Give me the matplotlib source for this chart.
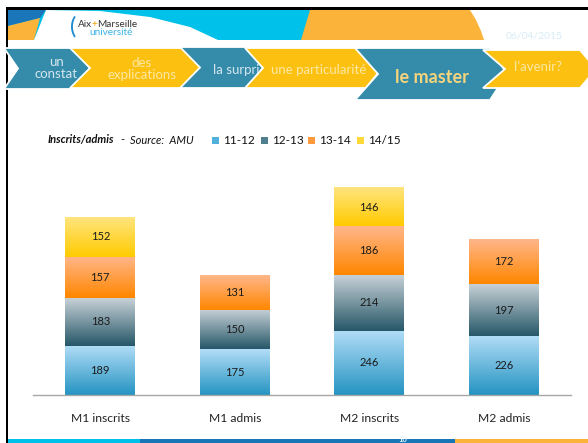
import numpy as np
import matplotlib
matplotlib.use("Agg")
import matplotlib.pyplot as plt
from matplotlib.patches import Polygon, Rectangle
from matplotlib.colors import LinearSegmentedColormap

plt.rcParams['font.family'] = ['Lato', 'DejaVu Sans']

# data
categories = ['M1 inscrits', 'M1 admis', 'M2 inscrits', 'M2 admis']
series = ['11-12', '12-13', '13-14', '14/15']
v_1112 = [189, 175, 246, 226]
v_1213 = [183, 150, 214, 197]
v_1314 = [157, 131, 186, 172]
v_1415 = [152, 0, 146, 0]
values = [v_1112, v_1213, v_1314, v_1415]

nav_labels = ['un\nconstat', 'des\nexplications', 'la surpri', 'une particularité', 'le master', 'l\u2019avenir?']

# gradient colours per series (top, bottom)
grads = [('#b2ddf7', '#2594c2'),
         ('#c6d0d6', '#275869'),
         ('#ffb68a', '#ff8700'),
         ('#ffe47e', '#ffcb00')]
mid_cols = ['#52b0dc', '#4f7f8f', '#ff9a3c', '#ffd83a']

W, H = 588, 443
fig = plt.figure(figsize=(W / 100, H / 100), dpi=100)
fig.patch.set_facecolor('white')

# ---- slide background drawn in pixel coordinates ----
bg = fig.add_axes([0, 0, 1, 1])
bg.set_xlim(0, W)
bg.set_ylim(H, 0)
bg.axis('off')

teal = '#348caa'
yellow = '#fcc010'
cyan = '#00c1ea'
orange = '#fbb33a'
dblue = '#1a76b9'

bg.add_patch(Rectangle((8, 10), 305, 30, color=cyan, lw=0))
bg.add_patch(Polygon([(8, 10), (46, 10), (40, 18), (8, 26)], color=dblue, lw=0))
bg.add_patch(Polygon([(8, 26), (40, 18), (34, 40), (8, 40)], color=orange, lw=0))
bg.add_patch(Polygon([(46, 10), (100, 11), (150, 17), (190, 27), (218, 40), (34, 40)],
                     color='white', lw=0))
bg.add_patch(Polygon([(310, 10), (470, 10), (476, 20), (481, 31), (484, 40), (301, 40)],
                     color=orange, lw=0))
bg.text(534, 36, '06/04/2015', fontsize=7.5, color='#d6ecf6', ha='center', va='center')

# logo
bg.text(73, 27, '(', fontsize=17, color='#1a8ad0', ha='center', va='center')
bg.text(78, 24, 'Aix', fontsize=7.2, color='#333333', ha='left', va='center')
bg.text(92, 24, '+', fontsize=7.2, color='#f5a000', ha='left', va='center')
bg.text(97, 24, 'Marseille', fontsize=7.2, color='#333333', ha='left', va='center')
bg.text(89, 32, 'université', fontsize=7.2, color='#3ab4e6', ha='left', va='center')

# black frame
bg.add_patch(Rectangle((6, 7), W - 6, 3, color='black', lw=0))
bg.add_patch(Rectangle((6, 7), 2, H - 7, color='black', lw=0))


def chevron(x0, x1, tip, top, bot, notch, col, z):
    mid = (top + bot) / 2
    pts = [(x0, top), (x1, top), (tip, mid), (x1, bot), (x0, bot), (x0 + notch, mid)]
    bg.add_patch(Polygon(pts, closed=True, facecolor=col, edgecolor='white', lw=1.3, zorder=z))


# nav chevrons: x0, body end, tip, top, bottom, notch, colour, text x, text y, text colour, size, weight
navs = [
    (4, 75, 90, 48, 89, 14, teal, 56, 68, '#d4e5ee', 9.5, 'normal'),
    (70, 186, 201, 48, 88, 20, yellow, 142, 69, '#fde8a4', 9.5, 'normal'),
    (180, 248, 263, 47, 88, 20, teal, 236, 70, '#d4e5ee', 9.5, 'normal'),
    (245, 366, 382, 48, 88, 18, yellow, 319, 70, '#fde8a4', 9.5, 'normal'),
    (355, 490, 507, 48, 100, 23, teal, 432, 77, '#f6d47c', 13, 'bold'),
    (483, 580, 596, 50, 88, 22, yellow, 538, 67, '#fde8a4', 9.5, 'normal'),
]
for i, (x0, x1, tip, top, bot, notch, col, tx, ty, tc, fs, fw) in enumerate(navs):
    z = 2 + i * 2
    chevron(x0, x1, tip, top, bot, notch, col, z)
    bg.text(tx, ty, nav_labels[i], fontsize=fs, color=tc, ha='center', va='center',
            fontweight=fw, linespacing=1.05, zorder=z + 1)

# bottom strip
bg.add_patch(Rectangle((8, 439), 132, 4, color=cyan, lw=0))
bg.add_patch(Rectangle((140, 439), 315, 4, color='#1777b6', lw=0))
bg.add_patch(Rectangle((455, 439), 133, 4, color=orange, lw=0))
bg.text(403, 440, '10', fontsize=5.5, color='#e8f4fa', ha='center', va='center', fontweight='bold')

# legend line
bg.text(48, 140, 'Inscrits/admis', fontsize=8, style='italic', fontweight='bold',
        color='#111111', ha='left', va='center')
bg.text(120, 140, '-', fontsize=8, color='#111111', ha='left', va='center')
bg.text(130, 140, 'Source:  AMU', fontsize=8, style='italic', color='#111111',
        ha='left', va='center')
leg_x = [212, 261, 308, 357]
for i, s in enumerate(series):
    bg.add_patch(Rectangle((leg_x[i], 137), 6.5, 6.5, color=mid_cols[i], lw=0))
    bg.text(leg_x[i] + 11, 140.5, s, fontsize=8.5, color='#111111', ha='left', va='center')

# ---- chart ----
ax = fig.add_axes([33 / W, 48 / H, 538 / W, 261.4 / H])
ax.patch.set_alpha(0)
x = np.arange(len(categories))
bottom = np.zeros(len(categories))
bw = 0.52
for i, vals in enumerate(values):
    vals = np.array(vals, dtype=float)
    bars = ax.bar(x, vals, bw, bottom=bottom, color=mid_cols[i], lw=0)
    cmap = LinearSegmentedColormap.from_list('g%d' % i, [grads[i][1], grads[i][0]])
    grad = np.linspace(0, 1, 64).reshape(-1, 1)
    for b, v in zip(bars, vals):
        if v <= 0:
            continue
        x0, y0 = b.get_x(), b.get_y()
        ax.imshow(grad, extent=[x0, x0 + b.get_width(), y0, y0 + b.get_height()],
                  origin='lower', aspect='auto', cmap=cmap, zorder=2)
        ax.text(x0 + b.get_width() / 2, y0 + v / 2, '%d' % v, ha='center', va='center',
                fontsize=8, color='#1a1a1a', zorder=3)
    bottom += vals

ax.set_xlim(-0.5, 3.5)
ax.set_ylim(0, 1000)
for s in ['top', 'right', 'left']:
    ax.spines[s].set_visible(False)
ax.spines['bottom'].set_color('#a6a6a6')
ax.spines['bottom'].set_linewidth(1)
ax.set_yticks([])
ax.set_xticks(x)
ax.set_xticklabels(categories, fontsize=8.7, color='#222222')
ax.tick_params(axis='x', length=0, pad=13)

fig.savefig('out.png', dpi=100)
